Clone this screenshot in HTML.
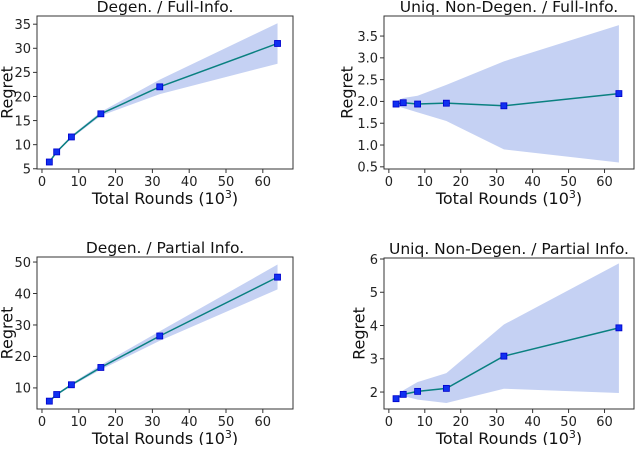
<!DOCTYPE html>
<html><head><meta charset="utf-8"><style>
body{margin:0;background:#fff;width:640px;height:445px;overflow:hidden}
svg{font-family:"DejaVu Sans","Liberation Sans",sans-serif}
</style></head><body>
<svg id="c" width="640" height="445"></svg>
<script>
const xVals=[2,4,8,16,32,64];
const xTicks=[0,10,20,30,40,50,60];
const titles=["Degen. / Full-Info.","Uniq. Non-Degen. / Full-Info.","Degen. / Partial Info.","Uniq. Non-Degen. / Partial Info."];
const meanTL=[6.4,8.5,11.6,16.4,22,31];
const lowTL=[6.2,8.3,11.3,16.0,20.5,26.8];
const highTL=[6.6,8.7,11.9,16.8,23.5,35.2];
const ticksTL=[5,10,15,20,25,30,35];
const meanTR=[1.94,1.97,1.94,1.96,1.90,2.18];
const lowTR=[1.9,1.85,1.75,1.55,0.9,0.6];
const highTR=[2.0,2.08,2.13,2.38,2.92,3.75];
const ticksTR=["0.5","1.0","1.5","2.0","2.5","3.0","3.5"];
const meanBL=[5.8,7.9,11,16.5,26.5,45.2];
const lowBL=[5.6,7.6,10.6,15.8,25,41.3];
const highBL=[6,8.2,11.4,17.3,28,49.2];
const ticksBL=[10,20,30,40,50];
const meanBR=[1.8,1.93,2.02,2.11,3.08,3.93];
const lowBR=[1.78,1.88,1.77,1.67,2.1,1.97];
const highBR=[1.82,2.05,2.3,2.57,4.03,5.87];
const ticksBR=[2,3,4,5,6];

const svg=document.getElementById('c');
const NS='http://www.w3.org/2000/svg';
function mk(t,a,p){const e=document.createElementNS(NS,t);for(const k in a)e.setAttribute(k,a[k]);(p||svg).appendChild(e);return e;}
const panels=[
 {name:'degen-full',x0:37,x1:293,y0:16,y1:169,ymin:4.95,ymax:36.7,mean:meanTL,low:lowTL,high:highTL,ticks:ticksTL,title:titles[0],ylx:7},
 {name:'nondegen-full',x0:384,x1:634,y0:16,y1:169,ymin:0.45,ymax:3.96,mean:meanTR,low:lowTR,high:highTR,ticks:ticksTR,title:titles[1],ylx:347},
 {name:'degen-partial',x0:37,x1:293,y0:257,y1:409,ymin:3.3,ymax:51.6,mean:meanBL,low:lowBL,high:highBL,ticks:ticksBL,title:titles[2],ylx:7},
 {name:'nondegen-partial',x0:384,x1:634,y0:258,y1:409,ymin:1.49,ymax:6.03,mean:meanBR,low:lowBR,high:highBR,ticks:ticksBR,title:titles[3],ylx:359}
];
panels.forEach(p=>{
 const g=mk('g',{});
 
 
 const xmin=-1.35,xmax=68.2;
 const X=v=>p.x0+(v-xmin)/(xmax-xmin)*(p.x1-p.x0);
 const Y=v=>p.y1-(v-p.ymin)/(p.ymax-p.ymin)*(p.y1-p.y0);
 let pts=xVals.map((x,i)=>X(x)+','+Y(p.high[i]));
 pts=pts.concat(xVals.map((x,i)=>X(x)+','+Y(p.low[i])).reverse());
 const band=mk('polygon',{points:pts.join(' '),fill:'#c5d1f3'},g);
 
 
 const line=mk('polyline',{points:xVals.map((x,i)=>X(x)+','+Y(p.mean[i])).join(' '),fill:'none',stroke:'#0a8080','stroke-width':1.5},g);
 
 
 xVals.forEach((x,i)=>{
  const m=mk('rect',{x:X(x)-3,y:Y(p.mean[i])-3,width:6,height:6,fill:'#1030f0',stroke:'#0000cc','stroke-width':0.8},g);
  
  
 });
 const fr=mk('rect',{x:p.x0,y:p.y0,width:p.x1-p.x0,height:p.y1-p.y0,fill:'none',stroke:'#333','stroke-width':1},g);
 
 
 xTicks.forEach(t=>{
  mk('line',{x1:X(t),x2:X(t),y1:p.y1,y2:p.y1+4,stroke:'#333'},g);
  const tx=mk('text',{x:X(t),y:p.y1+17,'text-anchor':'middle','font-size':13,fill:'#222'},g);
  tx.textContent=t;
  
  
 });
 p.ticks.forEach(t=>{
  const v=parseFloat(t);
  mk('line',{x1:p.x0-4,x2:p.x0,y1:Y(v),y2:Y(v),stroke:'#333'},g);
  const tx=mk('text',{x:p.x0-6,y:Y(v)+4.8,'text-anchor':'end','font-size':13,fill:'#222'},g);
  tx.textContent=t;
  
  
 });
 const ti=mk('text',{x:(p.x0+p.x1)/2,y:p.y0-4,'text-anchor':'middle','font-size':15.5,fill:'#111'},g);
 ti.textContent=p.title;
 
 
 const xl=mk('text',{x:(p.x0+p.x1)/2,y:p.y1+35,'text-anchor':'middle','font-size':16,fill:'#111'},g);
 xl.innerHTML='Total Rounds (10<tspan font-size="11" dy="-6">3</tspan><tspan dy="6">)</tspan>';
 
 
 const yl=mk('text',{x:0,y:0,'text-anchor':'middle','dominant-baseline':'central','font-size':16,fill:'#111',transform:`translate(${p.ylx},${(p.y0+p.y1)/2}) rotate(-90)`},g);
 yl.textContent='Regret';
 
 
});
</script>
</body></html>
